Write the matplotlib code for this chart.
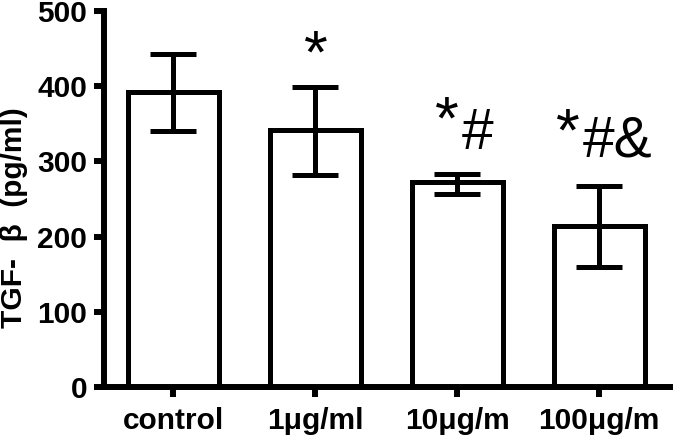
import matplotlib
matplotlib.use("Agg")
import matplotlib.pyplot as plt

categories = ["control", "1\u03bcg/ml", "10\u03bcg/m", "100\u03bcg/m"]
means = [392, 342, 272, 214]
err_upper = [443, 399, 283, 267]
err_lower = [340, 282, 257, 160]
yticks = [0, 100, 200, 300, 400, 500]
stars = ["*", "*", "*"]
star_idx = [1, 2, 3]
marks = ["#", "#&"]
mark_idx = [2, 3]

plt.rcParams['font.family'] = ['Liberation Sans', 'DejaVu Sans']

fig = plt.figure(figsize=(6.75, 4.44), dpi=100)
ax = fig.add_axes([0.154, 0.128, 0.839, 0.848])

x = list(range(len(categories)))
yerr = [[m - lo for m, lo in zip(means, err_lower)],
        [hi - m for m, hi in zip(means, err_upper)]]
ax.bar(x, means, width=0.64, color='white', edgecolor='black', linewidth=3.6, zorder=2)
ax.errorbar(x, means, yerr=yerr, fmt='none', ecolor='black', elinewidth=3.6,
            capsize=16.5, capthick=3.6, zorder=3)

ax.set_xlim(-0.49, 3.5)
ax.set_ylim(0, 500)
ax.set_yticks(yticks)
ax.set_xticks(x)
ax.set_xticklabels(categories, fontsize=21.5, fontweight='bold')
ax.set_yticklabels([str(v) for v in yticks], fontsize=21.5, fontweight='bold')
for s in ['top', 'right']:
    ax.spines[s].set_visible(False)
for s in ['left', 'bottom']:
    ax.spines[s].set_linewidth(4.3)
ax.tick_params(axis='both', direction='out', length=7, width=4.3)
ax.tick_params(axis='y', pad=5)
ax.tick_params(axis='x', pad=7)
ax.set_ylabel("TGF-  \u03b2  (pg/ml)", fontsize=21.5, fontweight='bold')
ax.yaxis.set_label_coords(-0.134, 0.45)

# significance markers
star_x = [1.0, 1.926, 2.778]
star_y = [418, 330, 314]
for i, sx, sy in zip(star_idx, star_x, star_y):
    ax.text(sx, sy, "*", fontsize=44, ha='center', va='baseline', zorder=4)
mark_x = [2.14, 3.127]
mark_y = [316, 306]
for m, mx, my in zip(marks, mark_x, mark_y):
    ax.text(mx, my, m, fontsize=41, ha='center', va='baseline', zorder=4)

fig.savefig("out.png", dpi=100)
